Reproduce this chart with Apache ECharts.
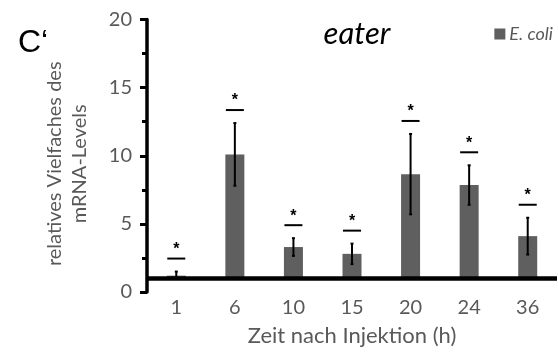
<!DOCTYPE html>
<html><head><meta charset="utf-8">
<script src="https://cdn.jsdelivr.net/npm/echarts@6/dist/echarts.min.js"></script>
<style>html,body{margin:0;padding:0;background:#fff}#c{width:558px;height:352px}</style>
</head><body><div id="c"></div>
<script>
const categories = ['1', '6', '10', '15', '20', '24', '36'];
const means = [1.2, 10.1, 3.3, 2.8, 8.65, 7.85, 4.1];
const errors = [0.3, 2.3, 0.65, 0.75, 2.95, 1.45, 1.35];
const significant = [true, true, true, true, true, true, true];
const baseline = 1;
const yTicks = [0, 5, 10, 15, 20];

const FONT = 'Lato';
const GRAY = '#595959';
const BAR = '#5f5f5f';

const chart = echarts.init(document.getElementById('c'));
chart.setOption({
  animation: false,
  backgroundColor: '#fff',
  title: [
    { text: 'C‘', left: 13, top: 22, textStyle: { fontFamily: 'Liberation Sans', fontSize: 32, fontWeight: 'normal', color: '#000' } },
    { text: 'eater', left: 352, top: 13, textAlign: 'center', textStyle: { fontFamily: FONT, fontSize: 31, fontStyle: 'italic', fontWeight: 'normal', color: '#000' } }
  ],
  legend: {
    right: 0, top: 20, itemWidth: 11, itemHeight: 11, itemGap: 5,
    icon: 'rect',
    data: ['E. coli'],
    textStyle: { fontFamily: FONT, fontSize: 18, fontStyle: 'italic', color: GRAY, padding: [0, 0, 0, -1] }
  },
  grid: { left: 147, right: 1, top: 19.5, bottom: 58 },
  xAxis: {
    type: 'category', data: categories,
    axisLine: { show: false }, axisTick: { show: false },
    axisLabel: { fontFamily: FONT, fontSize: 20, color: GRAY, margin: 6 },
    name: 'Zeit nach Injektion (h)', nameLocation: 'middle', nameGap: 33,
    nameTextStyle: { fontFamily: FONT, fontSize: 22, color: GRAY }
  },
  yAxis: {
    type: 'value', min: yTicks[0], max: yTicks[yTicks.length - 1], interval: 5,
    axisLine: { show: true, lineStyle: { color: '#000', width: 3.5 } },
    axisTick: { show: true, length: 7, lineStyle: { color: '#000', width: 3 } },
    minorTick: { show: true, splitNumber: 2, length: 5, lineStyle: { color: '#000', width: 3 } },
    splitLine: { show: false },
    axisLabel: { fontFamily: FONT, fontSize: 20, color: GRAY, margin: 15 },
    name: 'relatives Vielfaches des\nmRNA-Levels', nameLocation: 'middle', nameRotate: 90, nameGap: 55,
    nameTextStyle: { fontFamily: FONT, fontSize: 20, color: GRAY, lineHeight: 25, padding: [0, 16, 0, 0] }
  },
  series: [
    {
      name: 'base', type: 'bar', stack: 's', barWidth: 19, silent: true,
      itemStyle: { color: 'rgba(0,0,0,0)' },
      data: means.map(() => baseline)
    },
    {
      name: 'E. coli', type: 'bar', stack: 's', barWidth: 19,
      itemStyle: { color: BAR },
      data: means.map(v => v - baseline),
      markLine: {
        silent: true, symbol: 'none', label: { show: false },
        lineStyle: { color: '#000', width: 4.5, type: 'solid' },
        data: [{ yAxis: baseline }]
      },
      z: 2
    },
    {
      name: 'err', type: 'custom', z: 5,
      data: categories.map((c, i) => [i, means[i], errors[i], significant[i] ? 1 : 0]),
      renderItem: function (params, api) {
        const i = api.value(0), m = api.value(1), e = api.value(2), sig = api.value(3);
        const top = api.coord([i, m + e]);
        const bot = api.coord([i, Math.max(m - e, baseline)]);
        const x = top[0];
        const children = [
          { type: 'line', shape: { x1: x, y1: top[1], x2: x, y2: bot[1] }, style: { stroke: '#000', lineWidth: 2 } },
          { type: 'line', shape: { x1: x - 1.5, y1: top[1], x2: x + 1.5, y2: top[1] }, style: { stroke: '#000', lineWidth: 2 } },
          { type: 'line', shape: { x1: x - 1.5, y1: bot[1], x2: x + 1.5, y2: bot[1] }, style: { stroke: '#000', lineWidth: 2 } }
        ];
        if (sig) {
          const ly = top[1] - 13;
          children.push({ type: 'line', shape: { x1: x - 9, y1: ly, x2: x + 9, y2: ly }, style: { stroke: '#000', lineWidth: 2 } });
          children.push({ type: 'text', x: x, y: ly - 1, style: { text: '*', fill: '#000', font: 'bold 16px "Liberation Sans"', align: 'center', verticalAlign: 'bottom' } });
        }
        return { type: 'group', children: children };
      }
    }
  ]
});
</script></body></html>
